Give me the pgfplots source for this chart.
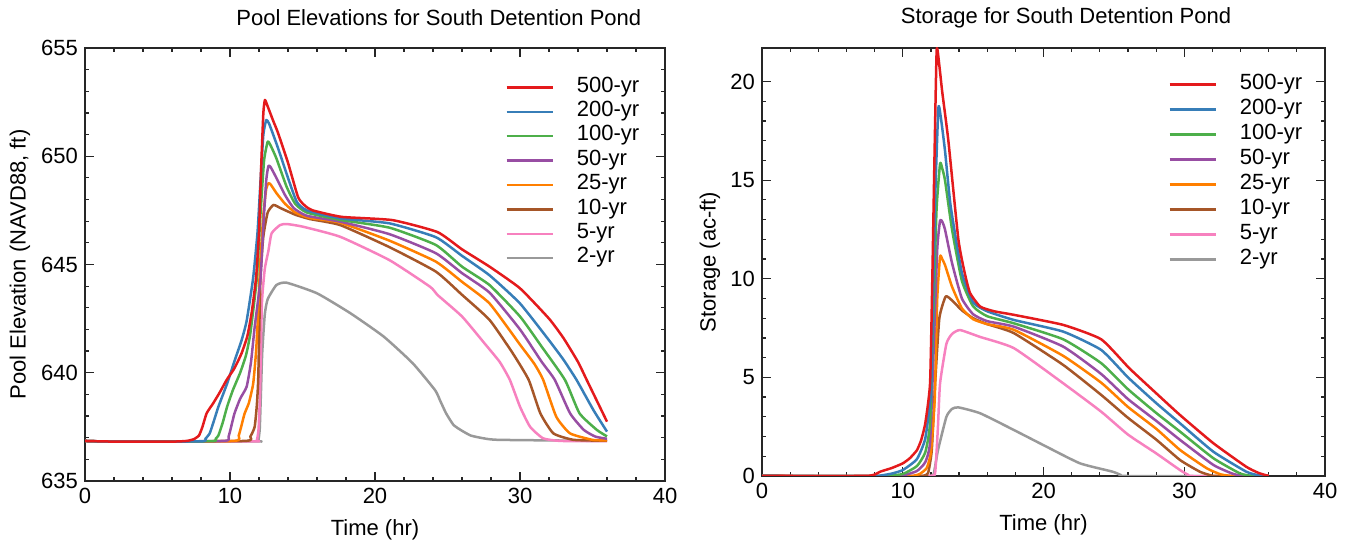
\documentclass[border=0pt]{standalone}
\usepackage{fontspec}
\setmainfont{Liberation Sans}
\usepackage{pgfplots}
\pgfplotsset{compat=1.18}
\definecolor{c500}{HTML}{E41A1C}
\definecolor{c200}{HTML}{377EB8}
\definecolor{c100}{HTML}{4DAF4A}
\definecolor{c50}{HTML}{984EA3}
\definecolor{c25}{HTML}{FF7F00}
\definecolor{c10}{HTML}{A65628}
\definecolor{c5}{HTML}{F781BF}
\definecolor{c2}{HTML}{999999}
\pgfplotsset{
  myaxis/.style={
    scale only axis,
    anchor=south west,
    xmin=0, xmax=40,
    xtick={0,10,20,30,40},
    minor x tick num=4,
    minor y tick num=4,
    tick align=inside,
    xtick pos=both, ytick pos=both,
    major tick length=4.5pt,
    minor tick length=2.2pt,
    axis line style={black!85, line width=0.6pt},
    tick style={black!85, line width=0.6pt},
    font=\fontsize{11}{13}\selectfont,
    /pgf/number format/assume math mode=true,
    /pgf/number format/1000 sep={},
    scaled ticks=false,
    every axis plot/.append style={line width=1.25pt, line join=round, smooth, tension=0.3},
    reverse legend,
    legend image code/.code={\draw[#1, sharp plot] (0pt,0pt) -- (23pt,0pt);},
    legend style={draw=none, fill=none, inner sep=0pt, row sep=0pt,
      font=\fontsize{11}{13}\selectfont,
      anchor=north west,
      nodes={inner sep=0pt, text height=8.4pt, text depth=3.8pt},
      /tikz/every odd column/.append style={column sep=11.5pt}},
    legend cell align=left,
    xlabel={Time (hr)},
    every axis title shift=0pt,
    title style={anchor=center},
    ylabel style={anchor=center, rotate=0},
    xlabel style={anchor=center},
  }
}
\begin{document}
\begin{tikzpicture}
\useasboundingbox (0,0) rectangle (676pt,272pt);
% ---------------- Left: pool elevations ----------------
\begin{axis}[myaxis,
  at={(42.5pt,31.5pt)}, width=290pt, height=216.5pt,
  ymin=635, ymax=655, ytick={635,640,645,650,655},
  ylabel={Pool Elevation (NAVD88, ft)},
  ylabel style={at={(axis description cs:-0.112,0.5)}},
  xlabel style={at={(axis description cs:0.5,-0.113)}},
  title={Pool Elevations for South Detention Pond},
  title style={at={(axis description cs:0.61,1.069)}},
  legend style={at={(axis description cs:0.724,0.938)}},
]
\addplot[c2] coordinates {(0,636.85)(2,636.82)(11.8,636.83)(11.95,636.85)(12.05,637.4)(12.13,639.0)(12.22,640.9)(12.4,642.7)(12.6,643.4)(13.2,644.05)(13.9,644.16)(16.0,643.67)(18.3,642.75)(20.6,641.67)(22.6,640.44)(24.14,639.2)(24.5,638.7)(24.9,638.13)(25.4,637.6)(25.9,637.36)(26.6,637.1)(27.5,636.97)(28.6,636.9)(36,636.85)};
\addlegendentry{2-yr}
\addplot[c5] coordinates {(0,636.85)(2,636.82)(11.6,636.83)(11.85,636.88)(11.97,637.4)(12.07,639.06)(12.2,643.2)(12.4,644.8)(12.64,645.6)(12.87,646.44)(13.45,646.82)(13.9,646.87)(15,646.75)(17.6,646.28)(21,645.2)(23.8,643.97)(24.3,643.6)(26,642.6)(27.5,641.4)(28.6,640.5)(29.3,639.67)(30,638.43)(30.7,637.5)(31.6,636.97)(32.8,636.85)(36,636.84)};
\addlegendentry{5-yr}
\addplot[c10] coordinates {(0,636.85)(2,636.82)(11.0,636.85)(11.4,637.05)(11.7,637.5)(11.85,638.5)(11.95,639.8)(12.1,644.4)(12.3,646.3)(12.6,647.4)(13.0,647.75)(13.5,647.6)(14.5,647.3)(15.5,647.1)(17.6,646.82)(21,645.8)(24.2,644.67)(26,643.6)(27.9,642.44)(29.5,640.9)(30.6,639.67)(31.4,638.13)(32.3,637.2)(33.7,636.9)(36,636.86)};
\addlegendentry{10-yr}
\addplot[c25] coordinates {(0,636.85)(2,636.82)(10.2,636.85)(10.6,637.1)(11.0,638.1)(11.3,638.6)(11.6,639.5)(11.8,641.0)(11.95,642.9)(12.07,644.9)(12.3,647.3)(12.5,648.5)(12.65,648.75)(12.8,648.7)(13.2,648.3)(13.8,647.8)(14.5,647.4)(15.5,647.15)(17.6,646.93)(21,646.1)(24.2,645.13)(26,644.2)(27.9,643.2)(30,641.3)(31,640.4)(31.6,639.67)(32.5,637.97)(33.45,637.2)(35,636.9)(36,636.88)};
\addlegendentry{25-yr}
\addplot[c50] coordinates {(0,636.85)(2,636.82)(9.5,636.85)(9.9,637.05)(10.3,638.1)(10.7,638.8)(11.15,639.36)(11.45,640.5)(11.7,642.1)(12.1,644.3)(12.3,646.8)(12.5,648.9)(12.65,649.55)(12.8,649.5)(13.2,649.0)(13.8,648.2)(14.4,647.6)(15.3,647.25)(17.6,646.98)(21,646.4)(24.2,645.52)(26,644.6)(27.9,643.7)(30,642.0)(31.5,640.5)(32.4,639.67)(33.45,638.13)(34.4,637.36)(35.2,637.05)(36,636.95)};
\addlegendentry{50-yr}
\addplot[c100] coordinates {(0,636.85)(2,636.82)(8.7,636.84)(9.0,636.95)(9.2,637.1)(9.5,637.7)(9.8,638.43)(10.2,639.2)(10.7,640.0)(11.1,640.8)(11.4,641.8)(11.84,644.3)(12.1,647.3)(12.35,649.8)(12.6,650.67)(12.8,650.5)(13.2,649.9)(13.9,648.6)(14.5,647.8)(15.3,647.4)(17.6,647.06)(21,646.7)(24.2,645.9)(26,644.9)(27.9,644.05)(30,642.6)(31.5,641.2)(33.1,639.67)(34.1,638.13)(35.3,637.36)(36,637.06)};
\addlegendentry{100-yr}
\addplot[c200] coordinates {(0,636.85)(2,636.82)(8,636.83)(8.3,636.95)(8.6,637.2)(8.9,637.8)(9.2,638.43)(9.8,639.5)(10.34,640.6)(10.8,641.5)(11.15,642.4)(11.6,644.4)(11.9,646.5)(12.1,648.8)(12.3,651.0)(12.5,651.67)(12.7,651.5)(13.3,650.4)(14.0,649.0)(14.6,647.9)(15.3,647.5)(17.6,647.13)(21,646.9)(24.2,646.26)(26,645.4)(27.9,644.5)(30,643.2)(32,641.5)(33,640.6)(33.9,639.67)(35.06,638.28)(36,637.28)};
\addlegendentry{200-yr}
\addplot[c500] coordinates {(0,636.85)(2,636.82)(6,636.82)(7,636.85)(7.5,636.93)(7.86,637.1)(8.1,637.5)(8.39,638.13)(8.85,638.6)(9.3,639.1)(9.77,639.67)(10.3,640.2)(10.8,640.9)(11.2,641.7)(11.5,642.8)(11.8,644.4)(12.0,646.5)(12.15,649.5)(12.3,652.0)(12.41,652.6)(12.6,652.3)(13.0,651.6)(13.3,651.1)(14.0,649.7)(14.7,648.1)(15.2,647.7)(15.7,647.5)(17.7,647.2)(21.2,647.05)(24.3,646.5)(26,645.7)(27.9,644.9)(30,643.9)(32,642.5)(33,641.6)(34,640.5)(34.6,639.67)(35.5,638.43)(36,637.74)};
\addlegendentry{500-yr}
\end{axis}
% ---------------- Right: storage ----------------
\begin{axis}[myaxis,
  at={(381pt,34pt)}, width=281.5pt, height=214pt,
  ymin=0, ymax=21.7, ytick={0,5,10,15,20},
  ylabel={Storage (ac-ft)},
  ylabel style={at={(axis description cs:-0.0924,0.5)}},
  xlabel style={at={(axis description cs:0.5,-0.1145)}},
  title={Storage for South Detention Pond},
  title style={at={(axis description cs:0.54,1.07)}},
  legend style={at={(axis description cs:0.721,0.945)}, nodes={text height=8.6pt, text depth=3.9pt}},
]
\addplot[c2] coordinates {(0,0)(11.8,0)(12.0,0.01)(12.2,0.1)(12.5,1.3)(13.1,3.0)(13.5,3.4)(13.95,3.48)(15.5,3.18)(17.9,2.33)(20.2,1.49)(22.6,0.64)(24.9,0.22)(25.5,0.05)(25.9,0)(36,0)};
\addlegendentry{2-yr}
\addplot[c5] coordinates {(0,0)(11.8,0)(12.0,0.02)(12.3,0.15)(12.5,2.5)(12.65,4.7)(13.1,6.7)(13.5,7.2)(14.07,7.4)(15.5,7.05)(17.9,6.48)(21.4,4.7)(24.1,3.26)(26,2.1)(28,1.15)(29.7,0.3)(30.3,0.05)(30.6,0)(36,0)};
\addlegendentry{5-yr}
\addplot[c10] coordinates {(0,0)(11.3,0)(11.5,0.02)(11.8,0.15)(12.06,1.3)(12.3,4.7)(12.6,8.0)(13.05,9.1)(13.5,8.9)(14.2,8.4)(15,8.0)(16,7.7)(17.9,7.24)(21.4,5.63)(24.1,4.11)(26,2.95)(28,1.85)(29.7,0.81)(31.1,0.22)(31.9,0.03)(32.3,0)(36,0)};
\addlegendentry{10-yr}
\addplot[c25] coordinates {(0,0)(10.5,0)(10.8,0.02)(11.2,0.1)(11.7,0.4)(12.0,1.2)(12.27,3.9)(12.45,9)(12.65,11.12)(12.8,11.0)(13.0,10.7)(13.5,9.6)(14.2,8.5)(15.0,7.95)(16,7.7)(17.9,7.41)(21.4,6.09)(24.1,4.73)(26,3.5)(28,2.4)(29.7,1.32)(31.6,0.39)(32.6,0.08)(33.5,0)(36,0)};
\addlegendentry{25-yr}
\addplot[c50] coordinates {(0,0)(9.6,0)(10,0.02)(11,0.25)(11.6,0.7)(11.94,1.7)(12.2,6.5)(12.45,11.5)(12.65,12.95)(12.8,12.9)(13.0,12.5)(13.5,10.8)(14.2,9.0)(15.0,8.2)(16,7.85)(17.9,7.57)(21.4,6.56)(24.1,5.17)(26,3.9)(28,2.8)(29.7,1.83)(32.07,0.56)(33.5,0.1)(34.4,0)(36,0)};
\addlegendentry{50-yr}
\addplot[c100] coordinates {(0,0)(8.6,0)(9,0.02)(10,0.1)(11,0.5)(11.6,1.2)(11.94,2.7)(12.17,8.1)(12.4,13.5)(12.65,15.83)(12.8,15.6)(13.0,15.0)(13.5,12.5)(14.2,9.9)(15.0,8.6)(16,8.1)(17.9,7.74)(21.4,6.93)(24.1,5.72)(26,4.4)(28,3.2)(29.7,2.25)(32.07,0.9)(33.96,0.13)(34.9,0)(36,0)};
\addlegendentry{100-yr}
\addplot[c200] coordinates {(0,0)(8.0,0)(8.4,0.02)(9.2,0.12)(10,0.3)(11,0.85)(11.6,1.9)(12.0,4.2)(12.1,7)(12.3,14)(12.53,18.65)(12.7,18.2)(13.0,16.5)(13.4,13.7)(14.2,10.3)(15.0,8.8)(16,8.35)(17.9,7.91)(21.4,7.32)(24.1,6.39)(26,5.0)(28,3.7)(29.7,2.67)(32.07,1.23)(34.4,0.22)(35.3,0.03)(35.7,0)(36,0)};
\addlegendentry{200-yr}
\addplot[c500] coordinates {(0,0)(7.0,0)(7.6,0.01)(8.0,0.07)(8.4,0.22)(9.2,0.4)(10.0,0.64)(10.5,0.9)(11.0,1.3)(11.3,1.8)(11.6,2.67)(11.94,4.7)(12.1,10)(12.25,16)(12.41,21.6)(12.6,20.8)(12.8,19.5)(13.24,17.0)(13.95,12.0)(14.4,10.3)(14.78,9.28)(15.5,8.59)(16.5,8.35)(17.9,8.17)(21.4,7.66)(24.1,6.93)(26.1,5.46)(28,4.2)(29.7,3.09)(32.07,1.66)(34.4,0.47)(35.3,0.15)(36,0)};
\addlegendentry{500-yr}
\end{axis}
\end{tikzpicture}
\end{document}
